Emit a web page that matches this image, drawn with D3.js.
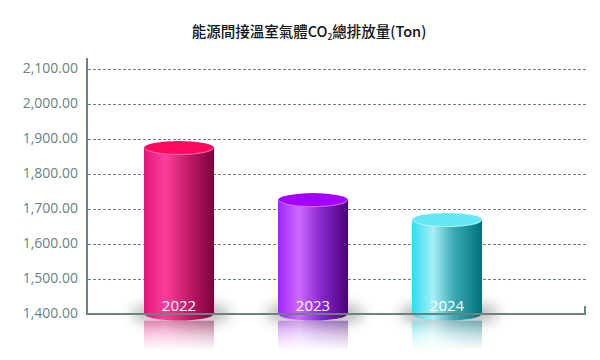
<!DOCTYPE html>
<html><head><meta charset="utf-8">
<script src="https://cdn.jsdelivr.net/npm/d3@7"></script>
<style>body{margin:0;background:#fff}svg{display:block}</style>
</head><body>
<svg id="c" width="600" height="360"></svg>
<script>
const categories = ["2022", "2023", "2024"];
const values = [1873, 1724, 1667];
const yTicks = [1400, 1500, 1600, 1700, 1800, 1900, 2000, 2100];
const topColors = ["#ff0660", "#a400ff", "#64e8f6"];
const bodyStops = [
  ["#e0177c", "#ff3e9c", "#c81f6c", "#7e0040"],
  ["#a224ff", "#cc6aff", "#8a2ad0", "#4c0078"],
  ["#2edcee", "#a6f0f8", "#3aaab4", "#00707a"]
];

const svg = d3.select("#c");
const defs = svg.append("defs");
const y = d3.scaleLinear().domain([1400, 2100]).range([313.5, 68.5]);
const x = d3.scaleBand().domain(categories).range([112, 514]).paddingInner(0.48).paddingOuter(0.24);
const bw = 70, ry = 7;

// title
const t = svg.append("text").attr("x", 309).attr("y", 37).attr("text-anchor", "middle")
  .attr("font-family", "'Noto Sans CJK TC','Noto Sans',sans-serif").attr("font-size", 14.5)
  .attr("font-weight", 500).attr("fill", "#111");
t.append("tspan").text("能源間接溫室氣體CO");
t.append("tspan").attr("font-size", 8.5).attr("dy", 3).text("2");
t.append("tspan").attr("dy", -3).text("總排放量(Ton)");

// gridlines
svg.append("g").selectAll("line").data(yTicks.slice(1)).join("line")
  .attr("x1", 88).attr("x2", 586).attr("y1", d => Math.round(y(d)) + 0.5).attr("y2", d => Math.round(y(d)) + 0.5)
  .attr("stroke", "#6a8282").attr("stroke-width", 1).attr("stroke-dasharray", "3,2");

// y axis
const yAxis = d3.axisLeft(y).tickValues(yTicks).tickSize(0).tickPadding(9).tickFormat(d3.format(",.2f"));
const gy = svg.append("g").attr("transform", "translate(87,0)").call(yAxis);
gy.select(".domain").remove();
gy.selectAll("text").attr("font-family", "'Open Sans',sans-serif").attr("font-size", 14).attr("fill", "#6a8282");
svg.append("line").attr("x1", 87).attr("x2", 87).attr("y1", 58).attr("y2", 315).attr("stroke", "#6a8282").attr("stroke-width", 2);

// shadow filter
const f = defs.append("filter").attr("id", "blur").attr("x", "-50%").attr("y", "-100%").attr("width", "200%").attr("height", "300%");
f.append("feGaussianBlur").attr("stdDeviation", 7);

// reflection fade mask
const mg = defs.append("linearGradient").attr("id", "fade").attr("x1", 0).attr("x2", 0).attr("y1", 0).attr("y2", 1);
mg.append("stop").attr("offset", 0).attr("stop-color", "#fff").attr("stop-opacity", 0.45);
mg.append("stop").attr("offset", 1).attr("stop-color", "#fff").attr("stop-opacity", 0);
defs.append("mask").attr("id", "rmask").attr("maskContentUnits", "objectBoundingBox")
  .append("rect").attr("width", 1).attr("height", 1).attr("fill", "url(#fade)");

bodyStops.forEach((s, i) => {
  const g = defs.append("linearGradient").attr("id", "body" + i);
  [0, 0.3, 0.6, 1].forEach((o, k) => g.append("stop").attr("offset", o).attr("stop-color", s[k]));
});

const base = y(1400);
const bars = svg.append("g").selectAll("g").data(categories).join("g");

// shadows
bars.append("ellipse").attr("cx", d => x(d) + x.bandwidth() / 2 + 2).attr("cy", base)
  .attr("rx", 50).attr("ry", 12).attr("fill", "#000").attr("opacity", 0.28).attr("filter", "url(#blur)");

// reflection
bars.append("rect").attr("x", d => x(d) + x.bandwidth() / 2 - bw / 2).attr("y", base + ry)
  .attr("width", bw).attr("height", 30).attr("fill", (d, i) => `url(#body${i})`).attr("mask", "url(#rmask)");

// axis bottom line
svg.append("line").attr("x1", 86).attr("x2", 586).attr("y1", 314).attr("y2", 314).attr("stroke", "#6a8282").attr("stroke-width", 2);
svg.append("line").attr("x1", 585).attr("x2", 585).attr("y1", 306).attr("y2", 315).attr("stroke", "#6a8282").attr("stroke-width", 2);

// bodies
bars.append("path").attr("d", (d, i) => {
  const cx = x(d) + x.bandwidth() / 2, l = cx - bw / 2, r = cx + bw / 2, top = y(values[i]);
  return `M${l},${top}L${l},${base}A${bw / 2},${ry} 0 0 0 ${r},${base}L${r},${top}Z`;
}).attr("fill", (d, i) => `url(#body${i})`);

// tops
bars.append("ellipse").attr("cx", d => x(d) + x.bandwidth() / 2).attr("cy", (d, i) => y(values[i]))
  .attr("rx", bw / 2).attr("ry", ry).attr("fill", (d, i) => topColors[i]);
bars.append("path").attr("d", (d, i) => {
  const cx = x(d) + x.bandwidth() / 2, l = cx - bw / 2 + 1, r = cx + bw / 2 - 1, top = y(values[i]);
  return `M${l},${top}A${bw / 2 - 1},${ry - 0.5} 0 0 0 ${r},${top}`;
}).attr("fill", "none").attr("stroke", "#fff").attr("stroke-opacity", 0.45).attr("stroke-width", 1);

// labels
bars.append("text").attr("x", d => x(d) + x.bandwidth() / 2).attr("y", 311).attr("text-anchor", "middle")
  .attr("font-family", "'Open Sans',sans-serif").attr("font-size", 15).attr("fill", "#fff").text(d => d);
</script>
</body></html>
